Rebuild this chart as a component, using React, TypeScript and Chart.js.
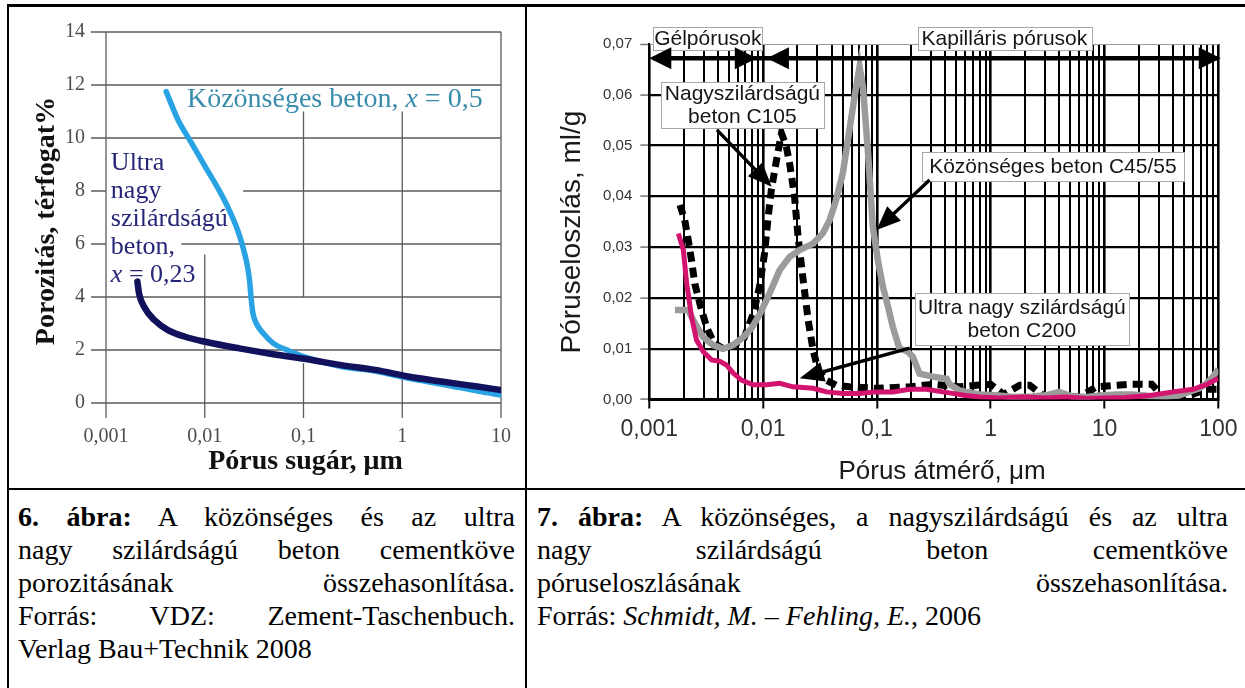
import React, { useEffect, useRef } from 'react';
import { Chart, registerables } from 'chart.js';
Chart.register(...registerables);

const SERIF = '"Liberation Serif", "Times New Roman", serif';
const SANS = '"Liberation Sans", Arial, sans-serif';

// ---------------- Figure 6 data ----------------
const fig6XTicks = [0.001, 0.01, 0.1, 1, 10];
const fig6YTicks = [0, 2, 4, 6, 8, 10, 12, 14];
const fig6OrdinaryX = [0.00407, 0.00537, 0.00738, 0.0101, 0.0139, 0.0177, 0.0215, 0.0243, 0.0267, 0.0284, 0.0296, 0.0308, 0.0333, 0.0391, 0.0495, 0.068, 0.1, 0.24, 0.54, 1.2, 2.6, 5.8, 10];
const fig6OrdinaryY = [11.75, 10.68, 9.8, 8.92, 8.04, 7.28, 6.53, 5.9, 5.27, 4.64, 3.89, 3.38, 3.0, 2.63, 2.25, 2.0, 1.75, 1.38, 1.2, 0.92, 0.7, 0.45, 0.3];
const fig6UltraX = [0.00208, 0.00216, 0.00243, 0.00309, 0.00424, 0.0063, 0.0101, 0.0224, 0.0495, 0.11, 0.242, 0.535, 1.18, 2.61, 5.75, 10];
const fig6UltraY = [4.58, 4.14, 3.63, 3.13, 2.75, 2.5, 2.31, 2.06, 1.84, 1.65, 1.43, 1.25, 0.99, 0.8, 0.62, 0.49];
const fig6XTitle = 'Pórus sugár, μm';
const fig6YTitle = 'Porozitás, térfogat%';
const fig6OrdinaryLabel = [{ t: 'Közönséges beton, ' }, { t: 'x', i: true }, { t: ' = 0,5' }];
const fig6UltraLabel = [[{ t: 'Ultra' }], [{ t: 'nagy' }], [{ t: 'szilárdságú' }], [{ t: 'beton,' }], [{ t: 'x', i: true }, { t: ' = 0,23' }]];
// partial grid lines: [y value, x start] and [x value, y from, y to]
const fig6HGrid = [[14, 0.001], [12, 0.001], [10, 0.001], [8, 0.0245], [6, 0.0058], [4, 0.001], [2, 0.001], [0, 0.001]];
const fig6VGrid = [[0.001, 0, 14], [0.01, 0, 5.6], [0.1, 4, 11], [0.1, 0, 1.5], [1, 0, 11], [10, 0, 14]];

// ---------------- Figure 7 data ----------------
const fig7YTicks = [0, 0.01, 0.02, 0.03, 0.04, 0.05, 0.06, 0.07];
const fig7GreyX = [0.00168, 0.0022, 0.00243, 0.00297, 0.00364, 0.00446, 0.00545, 0.0067, 0.0079, 0.0094, 0.0114, 0.014, 0.0171, 0.0209, 0.0275, 0.0334, 0.0384, 0.0438, 0.0501, 0.0574, 0.0636, 0.0704, 0.0754, 0.0836, 0.0921, 0.102, 0.113, 0.125, 0.138, 0.158, 0.185, 0.207, 0.237, 0.31, 0.41, 0.434, 0.53, 0.61, 0.8, 1.17, 1.6, 2.3, 3.2, 4.0, 5.2, 7, 9.1, 13, 17.6, 25, 34, 45, 55, 68, 77, 90, 100];
const fig7GreyY = [0.0176, 0.0176, 0.0156, 0.0123, 0.0107, 0.0100, 0.0107, 0.0123, 0.0140, 0.0169, 0.0209, 0.0255, 0.0281, 0.0294, 0.0307, 0.0327, 0.0353, 0.0393, 0.0445, 0.0531, 0.0596, 0.0655, 0.0616, 0.0485, 0.0340, 0.0274, 0.0222, 0.0183, 0.0143, 0.0100, 0.0095, 0.0084, 0.0051, 0.0045, 0.0041, 0.0030, 0.0018, 0.0015, 0.0010, 0.0008, 0.0005, 0.0006, 0.0009, 0.0015, 0.0006, 0.0005, 0.0008, 0.0010, 0.0010, 0.0007, 0.0006, 0.0008, 0.0015, 0.0022, 0.0030, 0.0045, 0.0060];
const fig7BlackX = [0.00186, 0.00205, 0.0022, 0.00235, 0.00251, 0.00278, 0.00318, 0.0037, 0.0045, 0.0055, 0.0068, 0.0082, 0.0093, 0.0103, 0.0110, 0.0118, 0.0131, 0.0145, 0.016, 0.0171, 0.0189, 0.0203, 0.0225, 0.0249, 0.0275, 0.0305, 0.0358, 0.0438, 0.0574, 0.098, 0.194, 0.31, 0.53, 0.75, 1.0, 1.3, 1.8, 2.2, 3.0, 6.0, 8.5, 13, 17, 26, 32, 50, 80, 100];
const fig7BlackY = [0.0383, 0.0353, 0.0314, 0.0274, 0.0228, 0.0189, 0.0143, 0.0111, 0.0100, 0.0106, 0.0121, 0.0169, 0.0222, 0.0288, 0.0353, 0.0412, 0.0471, 0.0524, 0.0498, 0.0465, 0.0399, 0.0320, 0.0235, 0.0156, 0.0097, 0.0058, 0.0038, 0.0028, 0.0025, 0.0022, 0.0025, 0.0030, 0.0025, 0.0028, 0.0030, 0.0010, 0.0028, 0.0028, 0.0005, 0.0005, 0.0025, 0.0028, 0.0030, 0.0030, 0.0008, 0.0005, 0.0020, 0.0020];
const fig7PinkX = [0.0018, 0.00199, 0.00213, 0.00235, 0.0026, 0.00298, 0.00352, 0.00417, 0.00476, 0.00546, 0.00645, 0.00816, 0.0107, 0.014, 0.0183, 0.0275, 0.036, 0.0504, 0.0703, 0.098, 0.138, 0.194, 0.271, 0.38, 0.46, 0.6, 0.8, 1.2, 2, 3, 4.5, 7, 10, 15, 25, 40, 60, 80, 100];
const fig7PinkY = [0.0327, 0.0295, 0.0229, 0.0163, 0.0117, 0.0094, 0.0078, 0.0075, 0.0068, 0.0052, 0.0038, 0.0029, 0.0029, 0.0032, 0.0025, 0.0022, 0.0015, 0.0012, 0.0012, 0.0015, 0.0015, 0.0020, 0.0020, 0.0015, 0.0012, 0.0008, 0.0005, 0.0003, 0.0005, 0.0003, 0.0005, 0.0002, 0.0003, 0.0004, 0.0008, 0.0015, 0.0020, 0.0030, 0.0042];
const fig7XTitle = 'Pórus átmérő, μm';
const fig7YTitle = 'Póruseloszlás, ml/g';
const fig7Boxes = [
  { lines: ['Gélpórusok'], x: 0.00327, y: 0.0710, padX: 1, padY: 0 },
  { lines: ['Kapilláris pórusok'], x: 1.32, y: 0.0710, padX: 4, padY: 0 },
  { lines: ['Nagyszilárdságú', 'beton C105'], x: 0.00658, y: 0.0580, padX: 4, padY: 0 },
  { lines: ['Közönséges beton C45/55'], x: 3.52, y: 0.0458, padX: 7, padY: 3 },
  { lines: ['Ultra nagy szilárdságú', 'beton C200'], x: 1.88, y: 0.0159, padX: 3, padY: 3 },
];
const fig7RowY = 0.0672;
const fig7RowTips = [{ x: 0.001, dir: -1 }, { x: 0.0088, dir: 1 }, { x: 0.0108, dir: -1 }, { x: 105, dir: 1 }];
const fig7Pointers = [
  { fx: 0.00393, fy: 0.0531, tx: 0.0119, ty: 0.0419 },
  { fx: 0.29, fy: 0.0432, tx: 0.0993, ty: 0.0334 },
  { fx: 0.194, fy: 0.0101, tx: 0.021, ty: 0.0042 },
];

// ---------------- Captions ----------------
const cap6Lines = [
  { b: '6. ábra:', t: ' A közönséges és az ultra', j: true },
  { t: 'nagy szilárdságú beton cementköve', j: true },
  { t: 'porozitásának összehasonlítása.', j: true },
  { t: 'Forrás: VDZ: Zement-Taschenbuch.', j: true },
  { t: 'Verlag Bau+Technik 2008', j: false },
];
const cap7Lines = [
  { b: '7. ábra:', t: ' A közönséges, a nagyszilárdságú és az ultra', j: true },
  { t: 'nagy szilárdságú beton cementköve', j: true },
  { t: 'póruseloszlásának összehasonlítása.', j: true },
  { t: 'Forrás: ', i: 'Schmidt, M. – Fehling, E.', t2: ', 2006', j: false },
];

function toPts(xs: number[], ys: number[]) {
  const n = Math.min(xs.length, ys.length);
  const out: { x: number; y: number }[] = [];
  for (let i = 0; i < n; i++) out.push({ x: xs[i], y: ys[i] });
  return out;
}
function isDecade(v: number) {
  const l = Math.log10(v);
  return Math.abs(l - Math.round(l)) < 1e-6;
}
function fmt(v: number) {
  return String(parseFloat(Number(v).toPrecision(6))).replace('.', ',');
}
function logTicks(min: number, max: number) {
  const t: number[] = [];
  for (let e = Math.round(Math.log10(min)); e < Math.round(Math.log10(max)); e++) {
    for (let k = 1; k < 10; k++) t.push(parseFloat((k * Math.pow(10, e)).toPrecision(6)));
  }
  t.push(max);
  return t;
}
function drawRuns(ctx: CanvasRenderingContext2D, runs: any[], x: number, y: number, size: number) {
  let cx = x;
  for (const r of runs) {
    ctx.font = `${r.i ? 'italic ' : ''}${size}px ${SERIF}`;
    ctx.fillText(r.t, cx, y);
    cx += ctx.measureText(r.t).width;
  }
}
function arrowHead(ctx: CanvasRenderingContext2D, tx: number, ty: number, dx: number, dy: number, len: number, half: number) {
  const m = Math.hypot(dx, dy) || 1;
  const ux = dx / m, uy = dy / m;
  const bx = tx - ux * len, by = ty - uy * len;
  ctx.beginPath();
  ctx.moveTo(tx, ty);
  ctx.lineTo(bx - uy * half, by + ux * half);
  ctx.lineTo(bx + uy * half, by - ux * half);
  ctx.closePath();
  ctx.fill();
}

const fig6Deco = {
  id: 'fig6Deco',
  beforeDatasetsDraw(chart: any) {
    const { ctx } = chart;
    const xs = chart.scales.x, ys = chart.scales.y;
    const ax = xs.getPixelForValue(0.001), ay = ys.getPixelForValue(0);
    const right = xs.getPixelForValue(10);
    ctx.save();
    ctx.strokeStyle = '#5c5c5c';
    ctx.lineWidth = 1.3;
    ctx.beginPath();
    for (const [v, from] of fig6HGrid) {
      const py = ys.getPixelForValue(v);
      ctx.moveTo(ax - 15, py); ctx.lineTo(ax, py);
      ctx.moveTo(xs.getPixelForValue(from), py); ctx.lineTo(right, py);
    }
    for (const [v, y0, y1] of fig6VGrid) {
      const px = xs.getPixelForValue(v);
      ctx.moveTo(px, ys.getPixelForValue(y0)); ctx.lineTo(px, ys.getPixelForValue(y1));
    }
    for (const v of fig6XTicks) {
      const px = xs.getPixelForValue(v);
      ctx.moveTo(px, ay); ctx.lineTo(px, ay + 15);
    }
    ctx.stroke();
    ctx.restore();
  },
  afterDatasetsDraw(chart: any) {
    const { ctx } = chart;
    const xs = chart.scales.x, ys = chart.scales.y;
    ctx.save();
    ctx.textBaseline = 'middle';
    ctx.textAlign = 'left';
    ctx.fillStyle = '#3a8cab';
    drawRuns(ctx, fig6OrdinaryLabel, xs.getPixelForValue(0.0066), ys.getPixelForValue(11.43), 28);
    ctx.fillStyle = '#262678';
    const lx = xs.getPixelForValue(0.00112);
    const ly = ys.getPixelForValue(9.06);
    fig6UltraLabel.forEach((runs, i) => drawRuns(ctx, runs, lx, ly + i * 28, 26));
    // axis titles
    ctx.fillStyle = '#111';
    ctx.font = `bold 28px ${SERIF}`;
    ctx.textAlign = 'center';
    ctx.textBaseline = 'alphabetic';
    ctx.fillText(fig6XTitle, (xs.left + xs.right) / 2 + 2, 462);
    ctx.translate(45, 214);
    ctx.rotate(-Math.PI / 2);
    ctx.fillText(fig6YTitle, 0, 0);
    ctx.restore();
  },
};

const fig7Deco = {
  id: 'fig7Deco',
  afterDatasetsDraw(chart: any) {
    const { ctx } = chart;
    const xs = chart.scales.x, ys = chart.scales.y;
    const X = (v: number) => xs.getPixelForValue(v);
    const Y = (v: number) => ys.getPixelForValue(v);
    ctx.save();
    // label boxes
    const LH = 23;
    ctx.font = `21px ${SANS}`;
    for (const b of fig7Boxes) {
      const w = Math.max(...b.lines.map((l) => ctx.measureText(l).width)) + 2 * b.padX;
      const h = b.lines.length * LH + 2 * b.padY;
      const cx = X(b.x), cy = Y(b.y);
      const l = Math.round(cx - w / 2), t = Math.round(cy - h / 2);
      ctx.fillStyle = '#fff';
      ctx.fillRect(l, t, Math.round(w), Math.round(h));
      ctx.strokeStyle = '#a8a8a8';
      ctx.lineWidth = 1;
      ctx.strokeRect(l + 0.5, t + 0.5, Math.round(w), Math.round(h));
      ctx.fillStyle = '#161616';
      ctx.textAlign = 'center';
      ctx.textBaseline = 'middle';
      b.lines.forEach((line, i) => ctx.fillText(line, cx, t + b.padY + LH * i + LH / 2 + 1));
    }
    // top double arrows
    ctx.fillStyle = '#000';
    ctx.strokeStyle = '#000';
    const ry = Y(fig7RowY);
    ctx.lineWidth = 4.5;
    ctx.beginPath();
    ctx.moveTo(X(0.001) + 4, ry);
    ctx.lineTo(X(100), ry);
    ctx.stroke();
    for (const tip of fig7RowTips) arrowHead(ctx, X(tip.x), ry, tip.dir, 0, 22, 11);
    // pointer arrows
    ctx.lineWidth = 3.4;
    for (const p of fig7Pointers) {
      const fx = X(p.fx), fy = Y(p.fy), tx = X(p.tx), ty = Y(p.ty);
      const m = Math.hypot(tx - fx, ty - fy);
      const ex = tx - ((tx - fx) / m) * 14, ey = ty - ((ty - fy) / m) * 14;
      ctx.beginPath();
      ctx.moveTo(fx, fy);
      ctx.lineTo(ex, ey);
      ctx.stroke();
      arrowHead(ctx, tx, ty, tx - fx, ty - fy, 24, 10);
    }
    // titles
    ctx.fillStyle = '#1a1a1a';
    ctx.textAlign = 'center';
    ctx.textBaseline = 'alphabetic';
    ctx.font = `26px ${SANS}`;
    ctx.fillText(fig7XTitle, 415, 472);
    ctx.translate(53, 225);
    ctx.rotate(-Math.PI / 2);
    ctx.font = `28px ${SANS}`;
    ctx.fillText(fig7YTitle, 0, 0);
    ctx.restore();
  },
};

function makeFig6(canvas: HTMLCanvasElement) {
  return new Chart(canvas, {
    type: 'line',
    data: {
      datasets: [
        { label: 'Ultra nagy szilárdságú beton, x = 0,23', data: toPts(fig6UltraX, fig6UltraY), borderColor: '#12125c', borderWidth: 6.5, pointRadius: 0, cubicInterpolationMode: 'monotone', borderCapStyle: 'round', fill: false },
        { label: 'Közönséges beton, x = 0,5', data: toPts(fig6OrdinaryX, fig6OrdinaryY), borderColor: '#2aa3e4', borderWidth: 5.5, pointRadius: 0, cubicInterpolationMode: 'monotone', borderCapStyle: 'round', fill: false },
      ],
    },
    options: {
      responsive: false,
      animation: false,
      events: [],
      layout: { padding: { left: 0, right: 20, top: 25, bottom: 0 } },
      plugins: { legend: { display: false }, tooltip: { enabled: false } },
      scales: {
        x: {
          type: 'logarithmic', min: 0.001, max: 10,
          grid: { display: false }, border: { display: false },
          afterBuildTicks: (s: any) => { s.ticks = fig6XTicks.map((v) => ({ value: v })); },
          afterFit: (s: any) => { s.height = 85; },
          ticks: { autoSkip: false, maxRotation: 0, padding: 14, color: '#4d4d4d', font: { family: SERIF, size: 20 }, callback: (v: any) => fmt(v) },
        },
        y: {
          type: 'linear', min: 0, max: 14,
          grid: { display: false }, border: { display: false },
          afterBuildTicks: (s: any) => { s.ticks = fig6YTicks.map((v) => ({ value: v })); },
          afterFit: (s: any) => { s.width = 97; },
          ticks: { padding: 13, color: '#4d4d4d', font: { family: SERIF, size: 20 }, callback: (v: any) => String(v) },
        },
      },
    } as any,
    plugins: [fig6Deco],
  } as any);
}

function makeFig7(canvas: HTMLCanvasElement) {
  return new Chart(canvas, {
    type: 'line',
    data: {
      datasets: [
        { label: 'Ultra nagy szilárdságú beton C200', data: toPts(fig7PinkX, fig7PinkY), borderColor: '#d3146f', borderWidth: 5, pointRadius: 0, tension: 0, fill: false },
        { label: 'Közönséges beton C45/55', data: toPts(fig7GreyX, fig7GreyY), borderColor: '#9b9b9b', borderWidth: 6.5, pointRadius: 0, tension: 0, fill: false },
        { label: 'Nagyszilárdságú beton C105', data: toPts(fig7BlackX, fig7BlackY), borderColor: '#000', borderWidth: 7, borderDash: [10, 6], borderCapStyle: 'butt', pointRadius: 0, tension: 0, fill: false },
      ],
    },
    options: {
      responsive: false,
      animation: false,
      events: [],
      layout: { padding: { left: 0, right: 26, top: 37, bottom: 0 } },
      plugins: { legend: { display: false }, tooltip: { enabled: false } },
      scales: {
        x: {
          type: 'logarithmic', min: 0.001, max: 100,
          afterBuildTicks: (s: any) => { s.ticks = logTicks(0.001, 100).map((v) => ({ value: v })); },
          afterFit: (s: any) => { s.height = 88.5; },
          grid: {
            color: '#000',
            lineWidth: (c: any) => (c.tick && isDecade(c.tick.value) ? 2.6 : 2),
            tickLength: 9,
            tickColor: (c: any) => (c.tick && isDecade(c.tick.value) ? '#000' : 'rgba(0,0,0,0)'),
            tickWidth: 2,
          },
          border: { display: true, color: '#000', width: 2 },
          ticks: { autoSkip: false, maxRotation: 0, padding: 7.5, color: '#333', font: { family: SANS, size: 23 }, callback: (v: any) => (isDecade(v) ? fmt(v) : '') },
        },
        y: {
          type: 'linear', min: 0, max: 0.07,
          afterBuildTicks: (s: any) => { s.ticks = fig7YTicks.map((v) => ({ value: v })); },
          afterFit: (s: any) => { s.width = 122.3; },
          grid: {
            color: (c: any) => (c.tick && c.tick.value > 0.0695 ? '#9a9a9a' : '#000'),
            lineWidth: (c: any) => (c.tick && c.tick.value > 0.0695 ? 1 : 2.2),
            tickLength: 9,
            tickColor: '#777',
            tickWidth: 1.5,
          },
          border: { display: true, color: '#000', width: 2 },
          ticks: { padding: 8, color: '#333', font: { family: SANS, size: 15 }, callback: (v: any) => Number(v).toFixed(2).replace('.', ',') },
        },
      },
    } as any,
    plugins: [fig7Deco],
  } as any);
}

const CAP_SIZE = 28;
function CapLine({ line, top, left, width }: any) {
  return (
    <div
      style={{
        position: 'absolute', top, left, width, height: 33, lineHeight: '33px',
        fontFamily: SERIF, fontSize: CAP_SIZE, color: '#000',
        textAlign: line.j ? 'justify' : 'left',
        textAlignLast: line.j ? 'justify' : 'left',
      } as any}
    >
      {line.b ? <b>{line.b}</b> : null}
      {line.t}
      {line.i ? <i>{line.i}</i> : null}
      {line.t2 || null}
    </div>
  );
}

export default function App() {
  const c1 = useRef<HTMLCanvasElement>(null);
  const c2 = useRef<HTMLCanvasElement>(null);
  useEffect(() => {
    const ch1 = makeFig6(c1.current!);
    const ch2 = makeFig7(c2.current!);
    return () => { ch1.destroy(); ch2.destroy(); };
  }, []);
  const line = (l: number, t: number, w: number, h: number) => (
    <div style={{ position: 'absolute', left: l, top: t, width: w, height: h, background: '#000' }} />
  );
  return (
    <div style={{ position: 'absolute', left: 0, top: 0, width: 1245, height: 688, overflow: 'hidden', background: '#fff' }}>
      <canvas ref={c1} width={516} height={481} style={{ position: 'absolute', left: 9, top: 7, width: 516, height: 481 }} />
      <canvas ref={c2} width={718} height={481} style={{ position: 'absolute', left: 527, top: 7, width: 718, height: 481 }} />
      {line(7, 4, 1238, 3)}
      {line(7, 4, 2, 684)}
      {line(525, 4, 2, 684)}
      {line(7, 488, 1238, 2)}
      {cap6Lines.map((l, i) => <CapLine key={'a' + i} line={l} top={500 + i * 33} left={18} width={497} />)}
      {cap7Lines.map((l, i) => <CapLine key={'b' + i} line={l} top={500 + i * 33} left={537} width={691} />)}
    </div>
  );
}
